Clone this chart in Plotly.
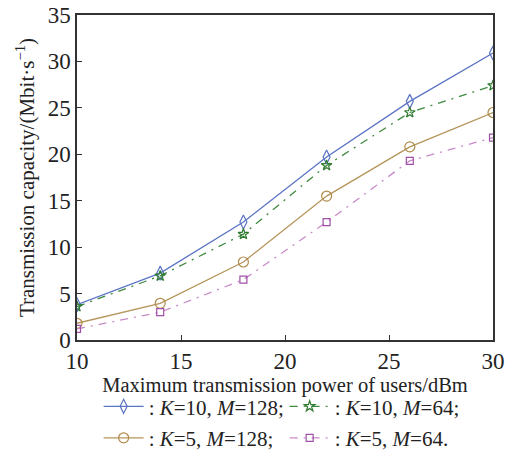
import plotly.graph_objects as go

power = [10, 14, 18, 22, 26, 30]
k10_m128 = [3.8, 7.2, 12.7, 19.7, 25.7, 30.9]
k10_m64 = [3.6, 6.9, 11.4, 18.8, 24.5, 27.4]
k5_m128 = [1.8, 3.95, 8.4, 15.5, 20.8, 24.5]
k5_m64 = [1.2, 3.0, 6.5, 12.7, 19.3, 21.8]

names = [
    ": <i>K</i>=10, <i>M</i>=128;",
    ": <i>K</i>=10, <i>M</i>=64;",
    ": <i>K</i>=5, <i>M</i>=128;",
    ": <i>K</i>=5, <i>M</i>=64.",
]
series = [k10_m128, k10_m64, k5_m128, k5_m64]
colors = ["#5b74c4", "#3f8a3f", "#b5955a", "#c88ac8"]
mcolors = ["#5b74c4", "#2f7a2f", "#b08a4a", "#a050a8"]
symbols = ["diamond-tall-open", "star-open", "circle-open", "square-open"]
sizes = [10, 8, 10, 7]
dashes = ["solid", "8px,6px,2px,6px", "solid", "8px,6px,2px,6px"]
legends = ["legend", "legend", "legend2", "legend2"]

font_family = "Liberation Serif, Times New Roman, serif"

fig = go.Figure()
for y, n, c, mc, s, sz, d, lg in zip(series, names, colors, mcolors, symbols, sizes, dashes, legends):
    fig.add_trace(go.Scatter(
        x=power, y=y, name=n, mode="lines+markers", legend=lg,
        line=dict(color=c, width=1.3, dash=d),
        marker=dict(symbol=s, size=sz, color=mc, line=dict(width=1.2, color=mc)),
    ))

axis_common = dict(
    showline=True, linecolor="#333333", linewidth=1.5, mirror=True,
    ticks="inside", ticklen=5, tickwidth=1.3, tickcolor="#333333",
    showgrid=False, zeroline=False,
    tickfont=dict(family=font_family, size=23, color="#222222"),
)

legend_common = dict(
    orientation="h", x=0.052, xanchor="left", yanchor="top",
    entrywidth=131, entrywidthmode="pixels",
    font=dict(family=font_family, size=21, color="#222222"),
    bgcolor="rgba(0,0,0,0)", itemwidth=40,
)

fig.update_layout(
    width=511, height=452,
    paper_bgcolor="white", plot_bgcolor="white",
    margin=dict(l=77, r=18, t=15, b=112, autoexpand=False),
    font=dict(family=font_family, color="#222222"),
    xaxis=dict(
        range=[10, 30], tickvals=[10, 15, 20, 25, 30],
        title=dict(text="Maximum transmission power of users/dBm",
                   font=dict(family=font_family, size=20.5), standoff=0),
        automargin=False,
        **axis_common,
    ),
    yaxis=dict(
        range=[0, 35], tickvals=[0, 5, 10, 15, 20, 25, 30, 35],
        title=dict(text="Transmission capacity/(Mbit·s<sup>−1</sup>)",
                   font=dict(family=font_family, size=21), standoff=7),
        automargin=False,
        **axis_common,
    ),
    legend=dict(y=-0.142, **legend_common),
    legend2=dict(y=-0.239, **legend_common),
)

fig.write_html("out.html", post_script="document.body.style.margin='0';",
               config={"displayModeBar": False})
